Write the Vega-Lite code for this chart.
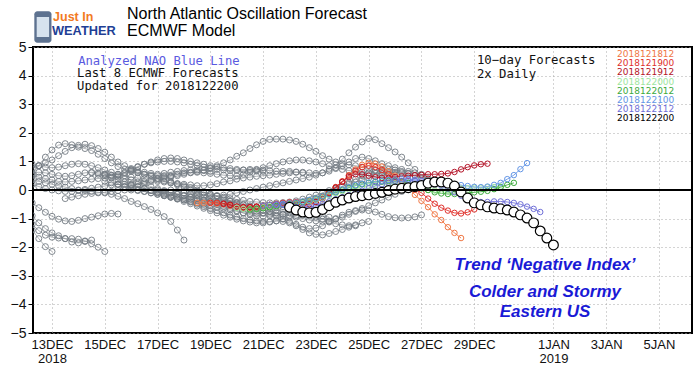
{
"$schema":"https://vega.github.io/schema/vega-lite/v6.json",
"width":659,"height":286,
"autosize":{"type":"none"},
"padding":{"left":33,"top":47,"right":8,"bottom":35},
"background":"white",
"config":{"view":{"stroke":"#000","strokeWidth":2},"font":"Liberation Sans","axis":{"labelOverlap":false},"axisX":{"labelOverlap":false},"axisY":{"labelOverlap":false}},
"data":{"values":[{"s":"annotation"}]},
"datasets":{
"gray":[
{"s":"g1","d":12.25,"v":0.55},{"s":"g1","d":12.5,"v":0.85},{"s":"g1","d":12.75,"v":1.15},{"s":"g1","d":13,"v":1.4},{"s":"g1","d":13.25,"v":1.57},{"s":"g1","d":13.5,"v":1.62},{"s":"g1","d":13.75,"v":1.58},{"s":"g1","d":14,"v":1.5},{"s":"g1","d":14.25,"v":1.45},{"s":"g1","d":14.5,"v":1.38},{"s":"g1","d":14.75,"v":1.25},{"s":"g1","d":15,"v":1.1},{"s":"g1","d":15.25,"v":0.95},{"s":"g1","d":15.5,"v":0.82},{"s":"g1","d":15.75,"v":0.72},{"s":"g1","d":16,"v":0.65},{"s":"g1","d":16.25,"v":0.6},{"s":"g1","d":16.5,"v":0.55},{"s":"g1","d":16.75,"v":0.52},{"s":"g1","d":17,"v":0.5},{"s":"g1","d":17.25,"v":0.5},{"s":"g1","d":17.5,"v":0.48},
{"s":"g2","d":12.25,"v":0.75},{"s":"g2","d":12.5,"v":0.85},{"s":"g2","d":12.75,"v":0.95},{"s":"g2","d":13,"v":1.05},{"s":"g2","d":13.25,"v":1.2},{"s":"g2","d":13.5,"v":1.35},{"s":"g2","d":13.75,"v":1.48},{"s":"g2","d":14,"v":1.56},{"s":"g2","d":14.25,"v":1.6},{"s":"g2","d":14.5,"v":1.55},{"s":"g2","d":14.75,"v":1.45},{"s":"g2","d":15,"v":1.32},{"s":"g2","d":15.25,"v":1.15},{"s":"g2","d":15.5,"v":0.98},{"s":"g2","d":15.75,"v":0.85},{"s":"g2","d":16,"v":0.75},{"s":"g2","d":16.25,"v":0.68},{"s":"g2","d":16.5,"v":0.62},{"s":"g2","d":16.75,"v":0.58},{"s":"g2","d":17,"v":0.55},{"s":"g2","d":17.25,"v":0.58},{"s":"g2","d":17.5,"v":0.62},{"s":"g2","d":17.75,"v":0.65},{"s":"g2","d":18,"v":0.68},{"s":"g2","d":18.25,"v":0.7},{"s":"g2","d":18.5,"v":0.7},{"s":"g2","d":18.75,"v":0.68},{"s":"g2","d":19,"v":0.65},
{"s":"g3","d":12.25,"v":0.9},{"s":"g3","d":12.5,"v":0.85},{"s":"g3","d":12.75,"v":0.8},{"s":"g3","d":13,"v":0.78},{"s":"g3","d":13.25,"v":0.8},{"s":"g3","d":13.5,"v":0.85},{"s":"g3","d":13.75,"v":0.9},{"s":"g3","d":14,"v":0.92},{"s":"g3","d":14.25,"v":0.9},{"s":"g3","d":14.5,"v":0.85},{"s":"g3","d":14.75,"v":0.78},{"s":"g3","d":15,"v":0.7},{"s":"g3","d":15.25,"v":0.62},{"s":"g3","d":15.5,"v":0.55},{"s":"g3","d":15.75,"v":0.5},{"s":"g3","d":16,"v":0.45},{"s":"g3","d":16.25,"v":0.42},{"s":"g3","d":16.5,"v":0.4},
{"s":"g4","d":12.25,"v":0.5},{"s":"g4","d":12.5,"v":0.45},{"s":"g4","d":12.75,"v":0.4},{"s":"g4","d":13,"v":0.35},{"s":"g4","d":13.25,"v":0.3},{"s":"g4","d":13.5,"v":0.28},{"s":"g4","d":13.75,"v":0.3},{"s":"g4","d":14,"v":0.32},{"s":"g4","d":14.25,"v":0.35},{"s":"g4","d":14.5,"v":0.38},{"s":"g4","d":14.75,"v":0.4},{"s":"g4","d":15,"v":0.42},{"s":"g4","d":15.25,"v":0.45},{"s":"g4","d":15.5,"v":0.5},{"s":"g4","d":15.75,"v":0.58},{"s":"g4","d":16,"v":0.68},{"s":"g4","d":16.25,"v":0.8},{"s":"g4","d":16.5,"v":0.9},{"s":"g4","d":16.75,"v":0.98},{"s":"g4","d":17,"v":1.05},{"s":"g4","d":17.25,"v":1.1},{"s":"g4","d":17.5,"v":1.12},{"s":"g4","d":17.75,"v":1.1},{"s":"g4","d":18,"v":1.05},{"s":"g4","d":18.25,"v":1.0},{"s":"g4","d":18.5,"v":0.95},{"s":"g4","d":18.75,"v":0.9},{"s":"g4","d":19,"v":0.85},{"s":"g4","d":19.25,"v":0.8},{"s":"g4","d":19.5,"v":0.77},{"s":"g4","d":19.75,"v":0.75},{"s":"g4","d":20,"v":0.72},{"s":"g4","d":20.25,"v":0.7},{"s":"g4","d":20.5,"v":0.68},{"s":"g4","d":20.75,"v":0.66},{"s":"g4","d":21,"v":0.65},
{"s":"g5","d":12.25,"v":0.2},{"s":"g5","d":12.5,"v":0.12},{"s":"g5","d":12.75,"v":0.05},{"s":"g5","d":13,"v":0.0},{"s":"g5","d":13.25,"v":-0.03},{"s":"g5","d":13.5,"v":-0.05},{"s":"g5","d":13.75,"v":-0.05},{"s":"g5","d":14,"v":-0.02},{"s":"g5","d":14.25,"v":0.02},{"s":"g5","d":14.5,"v":0.06},{"s":"g5","d":14.75,"v":0.1},{"s":"g5","d":15,"v":0.14},{"s":"g5","d":15.25,"v":0.18},{"s":"g5","d":15.5,"v":0.2},{"s":"g5","d":15.75,"v":0.2},{"s":"g5","d":16,"v":0.18},{"s":"g5","d":16.25,"v":0.12},{"s":"g5","d":16.5,"v":0.05},{"s":"g5","d":16.75,"v":-0.02},{"s":"g5","d":17,"v":-0.08},{"s":"g5","d":17.25,"v":-0.14},{"s":"g5","d":17.5,"v":-0.2},{"s":"g5","d":17.75,"v":-0.25},{"s":"g5","d":18,"v":-0.3},{"s":"g5","d":18.25,"v":-0.33},{"s":"g5","d":18.5,"v":-0.36},{"s":"g5","d":18.75,"v":-0.38},{"s":"g5","d":19,"v":-0.4},{"s":"g5","d":19.25,"v":-0.42},{"s":"g5","d":19.5,"v":-0.45},{"s":"g5","d":19.75,"v":-0.48},{"s":"g5","d":20,"v":-0.5},
{"s":"g7","d":12.25,"v":-0.45},{"s":"g7","d":12.5,"v":-0.62},{"s":"g7","d":12.75,"v":-0.78},{"s":"g7","d":13,"v":-0.92},{"s":"g7","d":13.25,"v":-1.02},{"s":"g7","d":13.5,"v":-1.08},{"s":"g7","d":13.75,"v":-1.1},{"s":"g7","d":14,"v":-1.06},{"s":"g7","d":14.25,"v":-1.0},{"s":"g7","d":14.5,"v":-0.95},{"s":"g7","d":14.75,"v":-0.9},{"s":"g7","d":15,"v":-0.84},{"s":"g7","d":15.25,"v":-0.82},{"s":"g7","d":15.5,"v":-0.84},
{"s":"g8","d":12.25,"v":-1.2},{"s":"g8","d":12.5,"v":-1.42},{"s":"g8","d":12.75,"v":-1.58},{"s":"g8","d":13,"v":-1.65},{"s":"g8","d":13.25,"v":-1.68},{"s":"g8","d":13.5,"v":-1.7},{"s":"g8","d":13.75,"v":-1.7},{"s":"g8","d":14,"v":-1.72},{"s":"g8","d":14.25,"v":-1.78},{"s":"g8","d":14.5,"v":-1.88},{"s":"g8","d":14.75,"v":-2.0},{"s":"g8","d":15,"v":-2.15},
{"s":"g9","d":12.25,"v":-1.4},{"s":"g9","d":12.5,"v":-1.7},{"s":"g9","d":12.75,"v":-1.98},{"s":"g9","d":13,"v":-2.15},
{"s":"g10","d":12.25,"v":-0.9},{"s":"g10","d":12.5,"v":-1.15},{"s":"g10","d":12.75,"v":-1.35},{"s":"g10","d":13,"v":-1.5},{"s":"g10","d":13.25,"v":-1.6},{"s":"g10","d":13.5,"v":-1.7},{"s":"g10","d":13.75,"v":-1.82},{"s":"g10","d":14,"v":-1.85},{"s":"g10","d":14.25,"v":-1.8},{"s":"g10","d":14.5,"v":-1.75},
{"s":"g12","d":12.25,"v":0.35},{"s":"g12","d":12.5,"v":0.3},{"s":"g12","d":12.75,"v":0.25},{"s":"g12","d":13,"v":0.2},{"s":"g12","d":13.25,"v":0.15},{"s":"g12","d":13.5,"v":0.1},{"s":"g12","d":13.75,"v":0.05},{"s":"g12","d":14,"v":0.0},{"s":"g12","d":14.25,"v":-0.02},{"s":"g12","d":14.5,"v":-0.05},{"s":"g12","d":14.75,"v":-0.08},{"s":"g12","d":15,"v":-0.1},{"s":"g12","d":15.25,"v":-0.15},{"s":"g12","d":15.5,"v":-0.22},{"s":"g12","d":15.75,"v":-0.3},{"s":"g12","d":16,"v":-0.4},{"s":"g12","d":16.25,"v":-0.48},{"s":"g12","d":16.5,"v":-0.58},{"s":"g12","d":16.75,"v":-0.68},{"s":"g12","d":17,"v":-0.8},{"s":"g12","d":17.25,"v":-0.93},{"s":"g12","d":17.5,"v":-1.1},{"s":"g12","d":17.75,"v":-1.4},{"s":"g12","d":18,"v":-1.75},
{"s":"g13","d":12.25,"v":0.6},{"s":"g13","d":12.5,"v":0.62},{"s":"g13","d":12.75,"v":0.6},{"s":"g13","d":13,"v":0.55},{"s":"g13","d":13.25,"v":0.5},{"s":"g13","d":13.5,"v":0.48},{"s":"g13","d":13.75,"v":0.5},{"s":"g13","d":14,"v":0.55},{"s":"g13","d":14.25,"v":0.6},{"s":"g13","d":14.5,"v":0.62},{"s":"g13","d":14.75,"v":0.6},{"s":"g13","d":15,"v":0.55},{"s":"g13","d":15.25,"v":0.52},{"s":"g13","d":15.5,"v":0.55},{"s":"g13","d":15.75,"v":0.62},{"s":"g13","d":16,"v":0.72},{"s":"g13","d":16.25,"v":0.82},{"s":"g13","d":16.5,"v":0.9},{"s":"g13","d":16.75,"v":0.95},{"s":"g13","d":17,"v":0.98},{"s":"g13","d":17.25,"v":1.0},{"s":"g13","d":17.5,"v":1.0},{"s":"g13","d":17.75,"v":0.98},{"s":"g13","d":18,"v":0.95},{"s":"g13","d":18.25,"v":0.9},{"s":"g13","d":18.5,"v":0.85},{"s":"g13","d":18.75,"v":0.8},{"s":"g13","d":19,"v":0.75},{"s":"g13","d":19.25,"v":0.72},{"s":"g13","d":19.5,"v":0.7},{"s":"g13","d":19.75,"v":0.68},{"s":"g13","d":20,"v":0.68},{"s":"g13","d":20.25,"v":0.7},{"s":"g13","d":20.5,"v":0.72},{"s":"g13","d":20.75,"v":0.72},{"s":"g13","d":21,"v":0.7},{"s":"g13","d":21.25,"v":0.68},{"s":"g13","d":21.5,"v":0.66},{"s":"g13","d":21.75,"v":0.65},{"s":"g13","d":22,"v":0.65},{"s":"g13","d":22.25,"v":0.63},{"s":"g13","d":22.5,"v":0.6},
{"s":"g14","d":15.5,"v":0.1},{"s":"g14","d":15.75,"v":0.12},{"s":"g14","d":16,"v":0.15},{"s":"g14","d":16.25,"v":0.2},{"s":"g14","d":16.5,"v":0.25},{"s":"g14","d":16.75,"v":0.3},{"s":"g14","d":17,"v":0.35},{"s":"g14","d":17.25,"v":0.4},{"s":"g14","d":17.5,"v":0.45},{"s":"g14","d":17.75,"v":0.5},{"s":"g14","d":18,"v":0.55},{"s":"g14","d":18.25,"v":0.6},{"s":"g14","d":18.5,"v":0.65},{"s":"g14","d":18.75,"v":0.7},{"s":"g14","d":19,"v":0.78},{"s":"g14","d":19.25,"v":0.85},{"s":"g14","d":19.5,"v":0.95},{"s":"g14","d":19.75,"v":1.05},{"s":"g14","d":20,"v":1.18},{"s":"g14","d":20.25,"v":1.3},{"s":"g14","d":20.5,"v":1.45},{"s":"g14","d":20.75,"v":1.58},{"s":"g14","d":21,"v":1.7},{"s":"g14","d":21.25,"v":1.77},{"s":"g14","d":21.5,"v":1.78},{"s":"g14","d":21.75,"v":1.78},{"s":"g14","d":22,"v":1.75},{"s":"g14","d":22.25,"v":1.7},{"s":"g14","d":22.5,"v":1.6},{"s":"g14","d":22.75,"v":1.48},{"s":"g14","d":23,"v":1.35},{"s":"g14","d":23.25,"v":1.2},{"s":"g14","d":23.5,"v":1.08},{"s":"g14","d":23.75,"v":0.98},{"s":"g14","d":24,"v":0.92},{"s":"g14","d":24.25,"v":0.88},{"s":"g14","d":24.5,"v":0.85},{"s":"g14","d":24.75,"v":0.8},{"s":"g14","d":25,"v":0.75},{"s":"g14","d":25.25,"v":0.7},{"s":"g14","d":25.5,"v":0.65},
{"s":"g15","d":17.5,"v":0.0},{"s":"g15","d":17.75,"v":-0.05},{"s":"g15","d":18,"v":-0.1},{"s":"g15","d":18.25,"v":-0.12},{"s":"g15","d":18.5,"v":-0.15},{"s":"g15","d":18.75,"v":-0.18},{"s":"g15","d":19,"v":-0.2},{"s":"g15","d":19.25,"v":-0.2},{"s":"g15","d":19.5,"v":-0.18},{"s":"g15","d":19.75,"v":-0.15},{"s":"g15","d":20,"v":-0.1},{"s":"g15","d":20.25,"v":-0.05},{"s":"g15","d":20.5,"v":0.0},{"s":"g15","d":20.75,"v":0.05},{"s":"g15","d":21,"v":0.1},{"s":"g15","d":21.25,"v":0.15},{"s":"g15","d":21.5,"v":0.2},{"s":"g15","d":21.75,"v":0.25},{"s":"g15","d":22,"v":0.3},{"s":"g15","d":22.25,"v":0.35},{"s":"g15","d":22.5,"v":0.4},{"s":"g15","d":22.75,"v":0.45},{"s":"g15","d":23,"v":0.52},{"s":"g15","d":23.25,"v":0.6},{"s":"g15","d":23.5,"v":0.72},{"s":"g15","d":23.75,"v":0.88},{"s":"g15","d":24,"v":1.08},{"s":"g15","d":24.25,"v":1.3},{"s":"g15","d":24.5,"v":1.5},{"s":"g15","d":24.75,"v":1.68},{"s":"g15","d":25,"v":1.8},{"s":"g15","d":25.25,"v":1.76},{"s":"g15","d":25.5,"v":1.62},{"s":"g15","d":25.75,"v":1.48},{"s":"g15","d":26,"v":1.33},{"s":"g15","d":26.25,"v":1.15},{"s":"g15","d":26.5,"v":0.95},{"s":"g15","d":26.75,"v":0.72},{"s":"g15","d":27,"v":0.52},{"s":"g15","d":27.25,"v":0.4},{"s":"g15","d":27.5,"v":0.3},
{"s":"g16","d":17,"v":0.3},{"s":"g16","d":17.25,"v":0.28},{"s":"g16","d":17.5,"v":0.25},{"s":"g16","d":17.75,"v":0.22},{"s":"g16","d":18,"v":0.2},{"s":"g16","d":18.25,"v":0.18},{"s":"g16","d":18.5,"v":0.15},{"s":"g16","d":18.75,"v":0.15},{"s":"g16","d":19,"v":0.18},{"s":"g16","d":19.25,"v":0.22},{"s":"g16","d":19.5,"v":0.28},{"s":"g16","d":19.75,"v":0.32},{"s":"g16","d":20,"v":0.38},{"s":"g16","d":20.25,"v":0.42},{"s":"g16","d":20.5,"v":0.45},{"s":"g16","d":20.75,"v":0.48},{"s":"g16","d":21,"v":0.5},{"s":"g16","d":21.25,"v":0.52},{"s":"g16","d":21.5,"v":0.55},{"s":"g16","d":21.75,"v":0.58},{"s":"g16","d":22,"v":0.6},{"s":"g16","d":22.25,"v":0.62},{"s":"g16","d":22.5,"v":0.62},{"s":"g16","d":22.75,"v":0.6},{"s":"g16","d":23,"v":0.58},{"s":"g16","d":23.25,"v":0.6},{"s":"g16","d":23.5,"v":0.66},{"s":"g16","d":23.75,"v":0.75},{"s":"g16","d":24,"v":0.85},{"s":"g16","d":24.25,"v":0.98},{"s":"g16","d":24.5,"v":1.1},{"s":"g16","d":24.75,"v":1.15},{"s":"g16","d":25,"v":1.1},{"s":"g16","d":25.25,"v":1.02},{"s":"g16","d":25.5,"v":0.92},{"s":"g16","d":25.75,"v":0.85},{"s":"g16","d":26,"v":0.78},{"s":"g16","d":26.25,"v":0.72},{"s":"g16","d":26.5,"v":0.65},{"s":"g16","d":26.75,"v":0.6},{"s":"g16","d":27,"v":0.55},
{"s":"g17","d":17,"v":0.0},{"s":"g17","d":17.25,"v":-0.05},{"s":"g17","d":17.5,"v":-0.1},{"s":"g17","d":17.75,"v":-0.15},{"s":"g17","d":18,"v":-0.2},{"s":"g17","d":18.25,"v":-0.25},{"s":"g17","d":18.5,"v":-0.3},{"s":"g17","d":18.75,"v":-0.35},{"s":"g17","d":19,"v":-0.4},{"s":"g17","d":19.25,"v":-0.45},{"s":"g17","d":19.5,"v":-0.5},{"s":"g17","d":19.75,"v":-0.55},{"s":"g17","d":20,"v":-0.6},{"s":"g17","d":20.25,"v":-0.65},{"s":"g17","d":20.5,"v":-0.7},{"s":"g17","d":20.75,"v":-0.75},{"s":"g17","d":21,"v":-0.8},{"s":"g17","d":21.25,"v":-0.85},{"s":"g17","d":21.5,"v":-0.92},{"s":"g17","d":21.75,"v":-1.0},{"s":"g17","d":22,"v":-1.1},{"s":"g17","d":22.25,"v":-1.2},{"s":"g17","d":22.5,"v":-1.3},{"s":"g17","d":22.75,"v":-1.35},{"s":"g17","d":23,"v":-1.33},{"s":"g17","d":23.25,"v":-1.25},{"s":"g17","d":23.5,"v":-1.12},{"s":"g17","d":23.75,"v":-1.0},{"s":"g17","d":24,"v":-0.88},{"s":"g17","d":24.25,"v":-0.78},{"s":"g17","d":24.5,"v":-0.72},{"s":"g17","d":24.75,"v":-0.7},{"s":"g17","d":25,"v":-0.72},{"s":"g17","d":25.25,"v":-0.77},{"s":"g17","d":25.5,"v":-0.85},{"s":"g17","d":25.75,"v":-0.93},{"s":"g17","d":26,"v":-0.97},{"s":"g17","d":26.25,"v":-0.98},{"s":"g17","d":26.5,"v":-0.97},{"s":"g17","d":26.75,"v":-0.94},{"s":"g17","d":27,"v":-0.87},
{"s":"g18","d":15,"v":0.3},{"s":"g18","d":15.25,"v":0.25},{"s":"g18","d":15.5,"v":0.2},{"s":"g18","d":15.75,"v":0.12},{"s":"g18","d":16,"v":0.05},{"s":"g18","d":16.25,"v":0.0},{"s":"g18","d":16.5,"v":-0.05},{"s":"g18","d":16.75,"v":-0.1},{"s":"g18","d":17,"v":-0.15},{"s":"g18","d":17.25,"v":-0.2},{"s":"g18","d":17.5,"v":-0.25},{"s":"g18","d":17.75,"v":-0.3},{"s":"g18","d":18,"v":-0.35},{"s":"g18","d":18.25,"v":-0.42},{"s":"g18","d":18.5,"v":-0.5},{"s":"g18","d":18.75,"v":-0.58},{"s":"g18","d":19,"v":-0.65},{"s":"g18","d":19.25,"v":-0.72},{"s":"g18","d":19.5,"v":-0.8},{"s":"g18","d":19.75,"v":-0.88},{"s":"g18","d":20,"v":-0.95},{"s":"g18","d":20.25,"v":-1.0},{"s":"g18","d":20.5,"v":-1.05},{"s":"g18","d":20.75,"v":-1.08},{"s":"g18","d":21,"v":-1.1},{"s":"g18","d":21.25,"v":-1.1},{"s":"g18","d":21.5,"v":-1.08},{"s":"g18","d":21.75,"v":-1.1},{"s":"g18","d":22,"v":-1.15},{"s":"g18","d":22.25,"v":-1.25},{"s":"g18","d":22.5,"v":-1.38},{"s":"g18","d":22.75,"v":-1.5},{"s":"g18","d":23,"v":-1.55},{"s":"g18","d":23.25,"v":-1.57},{"s":"g18","d":23.5,"v":-1.52},{"s":"g18","d":23.75,"v":-1.45},{"s":"g18","d":24,"v":-1.38},{"s":"g18","d":24.25,"v":-1.3},{"s":"g18","d":24.5,"v":-1.22},{"s":"g18","d":24.75,"v":-1.15},{"s":"g18","d":25,"v":-1.1},
{"s":"g19","d":15,"v":0.55},{"s":"g19","d":15.25,"v":0.5},{"s":"g19","d":15.5,"v":0.45},{"s":"g19","d":15.75,"v":0.4},{"s":"g19","d":16,"v":0.35},{"s":"g19","d":16.25,"v":0.28},{"s":"g19","d":16.5,"v":0.2},{"s":"g19","d":16.75,"v":0.12},{"s":"g19","d":17,"v":0.05},{"s":"g19","d":17.25,"v":-0.02},{"s":"g19","d":17.5,"v":-0.1},{"s":"g19","d":17.75,"v":-0.15},{"s":"g19","d":18,"v":-0.2},{"s":"g19","d":18.25,"v":-0.25},{"s":"g19","d":18.5,"v":-0.3},{"s":"g19","d":18.75,"v":-0.35},{"s":"g19","d":19,"v":-0.42},{"s":"g19","d":19.25,"v":-0.5},{"s":"g19","d":19.5,"v":-0.58},{"s":"g19","d":19.75,"v":-0.65},{"s":"g19","d":20,"v":-0.72},{"s":"g19","d":20.25,"v":-0.8},{"s":"g19","d":20.5,"v":-0.86},{"s":"g19","d":20.75,"v":-0.9},{"s":"g19","d":21,"v":-0.92},{"s":"g19","d":21.25,"v":-0.9},{"s":"g19","d":21.5,"v":-0.88},{"s":"g19","d":21.75,"v":-0.85},{"s":"g19","d":22,"v":-0.8},{"s":"g19","d":22.25,"v":-0.75},{"s":"g19","d":22.5,"v":-0.7},{"s":"g19","d":22.75,"v":-0.65},{"s":"g19","d":23,"v":-0.6},{"s":"g19","d":23.25,"v":-0.55},{"s":"g19","d":23.5,"v":-0.48},{"s":"g19","d":23.75,"v":-0.4},{"s":"g19","d":24,"v":-0.32},{"s":"g19","d":24.25,"v":-0.25},{"s":"g19","d":24.5,"v":-0.18},{"s":"g19","d":24.75,"v":-0.1},{"s":"g19","d":25,"v":-0.05},
{"s":"g20","d":17.5,"v":0.3},{"s":"g20","d":17.75,"v":0.22},{"s":"g20","d":18,"v":0.15},{"s":"g20","d":18.25,"v":0.08},{"s":"g20","d":18.5,"v":0.0},{"s":"g20","d":18.75,"v":-0.08},{"s":"g20","d":19,"v":-0.15},{"s":"g20","d":19.25,"v":-0.22},{"s":"g20","d":19.5,"v":-0.3},{"s":"g20","d":19.75,"v":-0.38},{"s":"g20","d":20,"v":-0.45},{"s":"g20","d":20.25,"v":-0.52},{"s":"g20","d":20.5,"v":-0.58},{"s":"g20","d":20.75,"v":-0.65},{"s":"g20","d":21,"v":-0.7},{"s":"g20","d":21.25,"v":-0.75},{"s":"g20","d":21.5,"v":-0.8},{"s":"g20","d":21.75,"v":-0.85},{"s":"g20","d":22,"v":-0.9},{"s":"g20","d":22.25,"v":-0.95},{"s":"g20","d":22.5,"v":-1.0},{"s":"g20","d":22.75,"v":-1.05},{"s":"g20","d":23,"v":-1.08},{"s":"g20","d":23.25,"v":-1.1},{"s":"g20","d":23.5,"v":-1.08},{"s":"g20","d":23.75,"v":-1.02},{"s":"g20","d":24,"v":-0.95},{"s":"g20","d":24.25,"v":-0.85},{"s":"g20","d":24.5,"v":-0.75},{"s":"g20","d":24.75,"v":-0.65},{"s":"g20","d":25,"v":-0.55},{"s":"g20","d":25.25,"v":-0.45},{"s":"g20","d":25.5,"v":-0.35},{"s":"g20","d":25.75,"v":-0.25},{"s":"g20","d":26,"v":-0.15},{"s":"g20","d":26.25,"v":-0.05},{"s":"g20","d":26.5,"v":0.02},{"s":"g20","d":26.75,"v":0.08},{"s":"g20","d":27,"v":0.12},{"s":"g20","d":27.25,"v":0.15},{"s":"g20","d":27.5,"v":0.18},
{"s":"g21","d":16,"v":0.7},{"s":"g21","d":16.25,"v":0.62},{"s":"g21","d":16.5,"v":0.55},{"s":"g21","d":16.75,"v":0.48},{"s":"g21","d":17,"v":0.4},{"s":"g21","d":17.25,"v":0.32},{"s":"g21","d":17.5,"v":0.25},{"s":"g21","d":17.75,"v":0.18},{"s":"g21","d":18,"v":0.1},{"s":"g21","d":18.25,"v":0.02},{"s":"g21","d":18.5,"v":-0.05},{"s":"g21","d":18.75,"v":-0.1},{"s":"g21","d":19,"v":-0.15},{"s":"g21","d":19.25,"v":-0.2},{"s":"g21","d":19.5,"v":-0.25},{"s":"g21","d":19.75,"v":-0.3},{"s":"g21","d":20,"v":-0.33},{"s":"g21","d":20.25,"v":-0.36},{"s":"g21","d":20.5,"v":-0.4},{"s":"g21","d":20.75,"v":-0.42},{"s":"g21","d":21,"v":-0.44},{"s":"g21","d":21.25,"v":-0.45},{"s":"g21","d":21.5,"v":-0.45},{"s":"g21","d":21.75,"v":-0.44},{"s":"g21","d":22,"v":-0.42},{"s":"g21","d":22.25,"v":-0.38},{"s":"g21","d":22.5,"v":-0.32},{"s":"g21","d":22.75,"v":-0.25},{"s":"g21","d":23,"v":-0.18},{"s":"g21","d":23.25,"v":-0.1},{"s":"g21","d":23.5,"v":-0.02},{"s":"g21","d":23.75,"v":0.05},{"s":"g21","d":24,"v":0.12},{"s":"g21","d":24.25,"v":0.2},{"s":"g21","d":24.5,"v":0.28},{"s":"g21","d":24.75,"v":0.35},{"s":"g21","d":25,"v":0.42},{"s":"g21","d":25.25,"v":0.48},{"s":"g21","d":25.5,"v":0.52},{"s":"g21","d":25.75,"v":0.55},{"s":"g21","d":26,"v":0.55},
{"s":"g22","d":16.5,"v":0.3},{"s":"g22","d":16.75,"v":0.35},{"s":"g22","d":17,"v":0.4},{"s":"g22","d":17.25,"v":0.45},{"s":"g22","d":17.5,"v":0.5},{"s":"g22","d":17.75,"v":0.55},{"s":"g22","d":18,"v":0.6},{"s":"g22","d":18.25,"v":0.62},{"s":"g22","d":18.5,"v":0.62},{"s":"g22","d":18.75,"v":0.6},{"s":"g22","d":19,"v":0.58},{"s":"g22","d":19.25,"v":0.55},{"s":"g22","d":19.5,"v":0.52},{"s":"g22","d":19.75,"v":0.5},{"s":"g22","d":20,"v":0.5},{"s":"g22","d":20.25,"v":0.55},{"s":"g22","d":20.5,"v":0.62},{"s":"g22","d":20.75,"v":0.7},{"s":"g22","d":21,"v":0.78},{"s":"g22","d":21.25,"v":0.85},{"s":"g22","d":21.5,"v":0.92},{"s":"g22","d":21.75,"v":0.98},{"s":"g22","d":22,"v":1.02},{"s":"g22","d":22.25,"v":1.05},{"s":"g22","d":22.5,"v":1.05},{"s":"g22","d":22.75,"v":1.02},{"s":"g22","d":23,"v":0.98},{"s":"g22","d":23.25,"v":0.92},{"s":"g22","d":23.5,"v":0.85},{"s":"g22","d":23.75,"v":0.78},{"s":"g22","d":24,"v":0.72},{"s":"g22","d":24.25,"v":0.68},{"s":"g22","d":24.5,"v":0.65},{"s":"g22","d":24.75,"v":0.62},{"s":"g22","d":25,"v":0.6},{"s":"g22","d":25.25,"v":0.58},{"s":"g22","d":25.5,"v":0.58},{"s":"g22","d":25.75,"v":0.6},{"s":"g22","d":26,"v":0.62},{"s":"g22","d":26.25,"v":0.6},{"s":"g22","d":26.5,"v":0.58},
{"s":"g23","d":18,"v":-0.1},{"s":"g23","d":18.25,"v":-0.15},{"s":"g23","d":18.5,"v":-0.2},{"s":"g23","d":18.75,"v":-0.25},{"s":"g23","d":19,"v":-0.3},{"s":"g23","d":19.25,"v":-0.33},{"s":"g23","d":19.5,"v":-0.36},{"s":"g23","d":19.75,"v":-0.4},{"s":"g23","d":20,"v":-0.45},{"s":"g23","d":20.25,"v":-0.5},{"s":"g23","d":20.5,"v":-0.55},{"s":"g23","d":20.75,"v":-0.6},{"s":"g23","d":21,"v":-0.62},{"s":"g23","d":21.25,"v":-0.62},{"s":"g23","d":21.5,"v":-0.6},{"s":"g23","d":21.75,"v":-0.58},{"s":"g23","d":22,"v":-0.55},{"s":"g23","d":22.25,"v":-0.5},{"s":"g23","d":22.5,"v":-0.45},{"s":"g23","d":22.75,"v":-0.38},{"s":"g23","d":23,"v":-0.3},{"s":"g23","d":23.25,"v":-0.22},{"s":"g23","d":23.5,"v":-0.12},{"s":"g23","d":23.75,"v":0.0},{"s":"g23","d":24,"v":0.12},{"s":"g23","d":24.25,"v":0.25},{"s":"g23","d":24.5,"v":0.38},{"s":"g23","d":24.75,"v":0.5},{"s":"g23","d":25,"v":0.6},{"s":"g23","d":25.25,"v":0.68},{"s":"g23","d":25.5,"v":0.72},{"s":"g23","d":25.75,"v":0.72},{"s":"g23","d":26,"v":0.7},{"s":"g23","d":26.25,"v":0.65},{"s":"g23","d":26.5,"v":0.58},{"s":"g23","d":26.75,"v":0.5},{"s":"g23","d":27,"v":0.42},{"s":"g23","d":27.25,"v":0.35},{"s":"g23","d":27.5,"v":0.3},{"s":"g23","d":27.75,"v":0.28},{"s":"g23","d":28,"v":0.25},
{"s":"g26","d":13.5,"v":-0.3},{"s":"g26","d":13.75,"v":-0.25},{"s":"g26","d":14,"v":-0.2},{"s":"g26","d":14.25,"v":-0.15},{"s":"g26","d":14.5,"v":-0.12},{"s":"g26","d":14.75,"v":-0.1},{"s":"g26","d":15,"v":-0.08},{"s":"g26","d":15.25,"v":-0.05},{"s":"g26","d":15.5,"v":-0.02},{"s":"g26","d":15.75,"v":0.0},{"s":"g26","d":16,"v":0.0},{"s":"g26","d":16.25,"v":-0.02},{"s":"g26","d":16.5,"v":-0.05},{"s":"g26","d":16.75,"v":-0.1},{"s":"g26","d":17,"v":-0.15},{"s":"g26","d":17.25,"v":-0.2},{"s":"g26","d":17.5,"v":-0.25},{"s":"g26","d":17.75,"v":-0.3},{"s":"g26","d":18,"v":-0.35},{"s":"g26","d":18.25,"v":-0.4},{"s":"g26","d":18.5,"v":-0.45},{"s":"g26","d":18.75,"v":-0.5},{"s":"g26","d":19,"v":-0.55},{"s":"g26","d":19.25,"v":-0.6},{"s":"g26","d":19.5,"v":-0.65},{"s":"g26","d":19.75,"v":-0.7},{"s":"g26","d":20,"v":-0.75},{"s":"g26","d":20.25,"v":-0.8},{"s":"g26","d":20.5,"v":-0.82},{"s":"g26","d":20.75,"v":-0.82},{"s":"g26","d":21,"v":-0.8},{"s":"g26","d":21.25,"v":-0.76},{"s":"g26","d":21.5,"v":-0.72},{"s":"g26","d":21.75,"v":-0.7},{"s":"g26","d":22,"v":-0.7},{"s":"g26","d":22.25,"v":-0.72},{"s":"g26","d":22.5,"v":-0.75},{"s":"g26","d":22.75,"v":-0.8},{"s":"g26","d":23,"v":-0.85},{"s":"g26","d":23.25,"v":-0.9},{"s":"g26","d":23.5,"v":-0.95},
{"s":"g27","d":14.5,"v":0.6},{"s":"g27","d":14.75,"v":0.55},{"s":"g27","d":15,"v":0.5},{"s":"g27","d":15.25,"v":0.42},{"s":"g27","d":15.5,"v":0.35},{"s":"g27","d":15.75,"v":0.28},{"s":"g27","d":16,"v":0.2},{"s":"g27","d":16.25,"v":0.12},{"s":"g27","d":16.5,"v":0.05},{"s":"g27","d":16.75,"v":-0.02},{"s":"g27","d":17,"v":-0.1},{"s":"g27","d":17.25,"v":-0.18},{"s":"g27","d":17.5,"v":-0.25},{"s":"g27","d":17.75,"v":-0.32},{"s":"g27","d":18,"v":-0.4},{"s":"g27","d":18.25,"v":-0.48},{"s":"g27","d":18.5,"v":-0.56},{"s":"g27","d":18.75,"v":-0.64},{"s":"g27","d":19,"v":-0.72},{"s":"g27","d":19.25,"v":-0.8},{"s":"g27","d":19.5,"v":-0.88},{"s":"g27","d":19.75,"v":-0.95},{"s":"g27","d":20,"v":-1.02},{"s":"g27","d":20.25,"v":-1.08},{"s":"g27","d":20.5,"v":-1.12},{"s":"g27","d":20.75,"v":-1.15},{"s":"g27","d":21,"v":-1.15},{"s":"g27","d":21.25,"v":-1.12},{"s":"g27","d":21.5,"v":-1.08},{"s":"g27","d":21.75,"v":-1.02},{"s":"g27","d":22,"v":-0.95},{"s":"g27","d":22.25,"v":-0.9},{"s":"g27","d":22.5,"v":-0.88},{"s":"g27","d":22.75,"v":-0.9},{"s":"g27","d":23,"v":-0.95},{"s":"g27","d":23.25,"v":-1.02},{"s":"g27","d":23.5,"v":-1.1},{"s":"g27","d":23.75,"v":-1.18},{"s":"g27","d":24,"v":-1.22},{"s":"g27","d":24.25,"v":-1.25},{"s":"g27","d":24.5,"v":-1.25}
],
"fc":[
{"s":"2018121812","d":18.5,"v":-0.45},{"s":"2018121812","d":18.75,"v":-0.45},{"s":"2018121812","d":19,"v":-0.45},{"s":"2018121812","d":19.25,"v":-0.47},{"s":"2018121812","d":19.5,"v":-0.5},{"s":"2018121812","d":19.75,"v":-0.55},{"s":"2018121812","d":20,"v":-0.6},{"s":"2018121812","d":20.25,"v":-0.62},{"s":"2018121812","d":20.5,"v":-0.62},{"s":"2018121812","d":20.75,"v":-0.6},{"s":"2018121812","d":21,"v":-0.57},{"s":"2018121812","d":21.25,"v":-0.53},{"s":"2018121812","d":21.5,"v":-0.5},{"s":"2018121812","d":21.75,"v":-0.48},{"s":"2018121812","d":22,"v":-0.46},{"s":"2018121812","d":22.25,"v":-0.44},{"s":"2018121812","d":22.5,"v":-0.42},{"s":"2018121812","d":22.75,"v":-0.38},{"s":"2018121812","d":23,"v":-0.32},{"s":"2018121812","d":23.25,"v":-0.22},{"s":"2018121812","d":23.5,"v":-0.08},{"s":"2018121812","d":23.75,"v":0.1},{"s":"2018121812","d":24,"v":0.3},{"s":"2018121812","d":24.25,"v":0.52},{"s":"2018121812","d":24.5,"v":0.72},{"s":"2018121812","d":24.75,"v":0.88},{"s":"2018121812","d":25,"v":0.95},{"s":"2018121812","d":25.25,"v":0.92},{"s":"2018121812","d":25.5,"v":0.82},{"s":"2018121812","d":25.75,"v":0.66},{"s":"2018121812","d":26,"v":0.5},{"s":"2018121812","d":26.25,"v":0.3},{"s":"2018121812","d":26.5,"v":0.08},{"s":"2018121812","d":26.75,"v":-0.17},{"s":"2018121812","d":27,"v":-0.38},{"s":"2018121812","d":27.25,"v":-0.6},{"s":"2018121812","d":27.5,"v":-0.85},{"s":"2018121812","d":27.75,"v":-1.05},{"s":"2018121812","d":28,"v":-1.3},{"s":"2018121812","d":28.25,"v":-1.5},{"s":"2018121812","d":28.5,"v":-1.68},
{"s":"2018121900","d":19,"v":-0.45},{"s":"2018121900","d":19.25,"v":-0.45},{"s":"2018121900","d":19.5,"v":-0.48},{"s":"2018121900","d":19.75,"v":-0.52},{"s":"2018121900","d":20,"v":-0.58},{"s":"2018121900","d":20.25,"v":-0.6},{"s":"2018121900","d":20.5,"v":-0.6},{"s":"2018121900","d":20.75,"v":-0.58},{"s":"2018121900","d":21,"v":-0.55},{"s":"2018121900","d":21.25,"v":-0.52},{"s":"2018121900","d":21.5,"v":-0.48},{"s":"2018121900","d":21.75,"v":-0.45},{"s":"2018121900","d":22,"v":-0.43},{"s":"2018121900","d":22.25,"v":-0.42},{"s":"2018121900","d":22.5,"v":-0.42},{"s":"2018121900","d":22.75,"v":-0.4},{"s":"2018121900","d":23,"v":-0.35},{"s":"2018121900","d":23.25,"v":-0.25},{"s":"2018121900","d":23.5,"v":-0.1},{"s":"2018121900","d":23.75,"v":0.1},{"s":"2018121900","d":24,"v":0.3},{"s":"2018121900","d":24.25,"v":0.5},{"s":"2018121900","d":24.5,"v":0.68},{"s":"2018121900","d":24.75,"v":0.8},{"s":"2018121900","d":25,"v":0.85},{"s":"2018121900","d":25.25,"v":0.8},{"s":"2018121900","d":25.5,"v":0.7},{"s":"2018121900","d":25.75,"v":0.55},{"s":"2018121900","d":26,"v":0.38},{"s":"2018121900","d":26.25,"v":0.22},{"s":"2018121900","d":26.5,"v":0.1},{"s":"2018121900","d":26.75,"v":0.02},{"s":"2018121900","d":27,"v":-0.1},{"s":"2018121900","d":27.25,"v":-0.3},{"s":"2018121900","d":27.5,"v":-0.48},{"s":"2018121900","d":27.75,"v":-0.62},{"s":"2018121900","d":28,"v":-0.72},{"s":"2018121900","d":28.25,"v":-0.8},{"s":"2018121900","d":28.5,"v":-0.82},{"s":"2018121900","d":28.75,"v":-0.78},{"s":"2018121900","d":29,"v":-0.68},
{"s":"2018121912","d":19.5,"v":-0.48},{"s":"2018121912","d":19.75,"v":-0.52},{"s":"2018121912","d":20,"v":-0.58},{"s":"2018121912","d":20.25,"v":-0.6},{"s":"2018121912","d":20.5,"v":-0.6},{"s":"2018121912","d":20.75,"v":-0.58},{"s":"2018121912","d":21,"v":-0.55},{"s":"2018121912","d":21.25,"v":-0.52},{"s":"2018121912","d":21.5,"v":-0.5},{"s":"2018121912","d":21.75,"v":-0.48},{"s":"2018121912","d":22,"v":-0.48},{"s":"2018121912","d":22.25,"v":-0.5},{"s":"2018121912","d":22.5,"v":-0.52},{"s":"2018121912","d":22.75,"v":-0.5},{"s":"2018121912","d":23,"v":-0.42},{"s":"2018121912","d":23.25,"v":-0.3},{"s":"2018121912","d":23.5,"v":-0.12},{"s":"2018121912","d":23.75,"v":0.08},{"s":"2018121912","d":24,"v":0.28},{"s":"2018121912","d":24.25,"v":0.45},{"s":"2018121912","d":24.5,"v":0.55},{"s":"2018121912","d":24.75,"v":0.55},{"s":"2018121912","d":25,"v":0.5},{"s":"2018121912","d":25.25,"v":0.45},{"s":"2018121912","d":25.5,"v":0.42},{"s":"2018121912","d":25.75,"v":0.42},{"s":"2018121912","d":26,"v":0.45},{"s":"2018121912","d":26.25,"v":0.48},{"s":"2018121912","d":26.5,"v":0.5},{"s":"2018121912","d":26.75,"v":0.52},{"s":"2018121912","d":27,"v":0.53},{"s":"2018121912","d":27.25,"v":0.55},{"s":"2018121912","d":27.5,"v":0.55},{"s":"2018121912","d":27.75,"v":0.56},{"s":"2018121912","d":28,"v":0.58},{"s":"2018121912","d":28.25,"v":0.63},{"s":"2018121912","d":28.5,"v":0.72},{"s":"2018121912","d":28.75,"v":0.8},{"s":"2018121912","d":29,"v":0.86},{"s":"2018121912","d":29.25,"v":0.9},{"s":"2018121912","d":29.5,"v":0.92},
{"s":"2018122000","d":20,"v":-0.62},{"s":"2018122000","d":20.25,"v":-0.66},{"s":"2018122000","d":20.5,"v":-0.68},{"s":"2018122000","d":20.75,"v":-0.66},{"s":"2018122000","d":21,"v":-0.62},{"s":"2018122000","d":21.25,"v":-0.58},{"s":"2018122000","d":21.5,"v":-0.55},{"s":"2018122000","d":21.75,"v":-0.52},{"s":"2018122000","d":22,"v":-0.5},{"s":"2018122000","d":22.25,"v":-0.48},{"s":"2018122000","d":22.5,"v":-0.45},{"s":"2018122000","d":22.75,"v":-0.4},{"s":"2018122000","d":23,"v":-0.35},{"s":"2018122000","d":23.25,"v":-0.28},{"s":"2018122000","d":23.5,"v":-0.2},{"s":"2018122000","d":23.75,"v":-0.12},{"s":"2018122000","d":24,"v":-0.05},{"s":"2018122000","d":24.25,"v":0.02},{"s":"2018122000","d":24.5,"v":0.08},{"s":"2018122000","d":24.75,"v":0.12},{"s":"2018122000","d":25,"v":0.15},{"s":"2018122000","d":25.25,"v":0.18},{"s":"2018122000","d":25.5,"v":0.2},{"s":"2018122000","d":25.75,"v":0.22},{"s":"2018122000","d":26,"v":0.22},{"s":"2018122000","d":26.25,"v":0.2},{"s":"2018122000","d":26.5,"v":0.15},{"s":"2018122000","d":26.75,"v":0.1},{"s":"2018122000","d":27,"v":0.05},{"s":"2018122000","d":27.25,"v":0.0},{"s":"2018122000","d":27.5,"v":-0.02},{"s":"2018122000","d":27.75,"v":-0.02},{"s":"2018122000","d":28,"v":0.0},{"s":"2018122000","d":28.25,"v":0.02},{"s":"2018122000","d":28.5,"v":0.05},{"s":"2018122000","d":28.75,"v":0.06},{"s":"2018122000","d":29,"v":0.08},{"s":"2018122000","d":29.25,"v":0.08},{"s":"2018122000","d":29.5,"v":0.1},{"s":"2018122000","d":29.75,"v":0.1},{"s":"2018122000","d":30,"v":0.12},
{"s":"2018122012","d":20.5,"v":-0.68},{"s":"2018122012","d":20.75,"v":-0.66},{"s":"2018122012","d":21,"v":-0.64},{"s":"2018122012","d":21.25,"v":-0.6},{"s":"2018122012","d":21.5,"v":-0.56},{"s":"2018122012","d":21.75,"v":-0.52},{"s":"2018122012","d":22,"v":-0.5},{"s":"2018122012","d":22.25,"v":-0.46},{"s":"2018122012","d":22.5,"v":-0.42},{"s":"2018122012","d":22.75,"v":-0.36},{"s":"2018122012","d":23,"v":-0.3},{"s":"2018122012","d":23.25,"v":-0.22},{"s":"2018122012","d":23.5,"v":-0.15},{"s":"2018122012","d":23.75,"v":-0.08},{"s":"2018122012","d":24,"v":0.0},{"s":"2018122012","d":24.25,"v":0.08},{"s":"2018122012","d":24.5,"v":0.15},{"s":"2018122012","d":24.75,"v":0.2},{"s":"2018122012","d":25,"v":0.25},{"s":"2018122012","d":25.25,"v":0.28},{"s":"2018122012","d":25.5,"v":0.3},{"s":"2018122012","d":25.75,"v":0.32},{"s":"2018122012","d":26,"v":0.32},{"s":"2018122012","d":26.25,"v":0.3},{"s":"2018122012","d":26.5,"v":0.25},{"s":"2018122012","d":26.75,"v":0.18},{"s":"2018122012","d":27,"v":0.1},{"s":"2018122012","d":27.25,"v":0.0},{"s":"2018122012","d":27.5,"v":-0.08},{"s":"2018122012","d":27.75,"v":-0.12},{"s":"2018122012","d":28,"v":-0.14},{"s":"2018122012","d":28.25,"v":-0.14},{"s":"2018122012","d":28.5,"v":-0.12},{"s":"2018122012","d":28.75,"v":-0.1},{"s":"2018122012","d":29,"v":-0.08},{"s":"2018122012","d":29.25,"v":-0.06},{"s":"2018122012","d":29.5,"v":-0.03},{"s":"2018122012","d":29.75,"v":0.03},{"s":"2018122012","d":30,"v":0.1},{"s":"2018122012","d":30.25,"v":0.18},{"s":"2018122012","d":30.5,"v":0.25},
{"s":"2018122100","d":21,"v":-0.55},{"s":"2018122100","d":21.25,"v":-0.52},{"s":"2018122100","d":21.5,"v":-0.5},{"s":"2018122100","d":21.75,"v":-0.48},{"s":"2018122100","d":22,"v":-0.46},{"s":"2018122100","d":22.25,"v":-0.44},{"s":"2018122100","d":22.5,"v":-0.4},{"s":"2018122100","d":22.75,"v":-0.35},{"s":"2018122100","d":23,"v":-0.3},{"s":"2018122100","d":23.25,"v":-0.22},{"s":"2018122100","d":23.5,"v":-0.15},{"s":"2018122100","d":23.75,"v":-0.06},{"s":"2018122100","d":24,"v":0.02},{"s":"2018122100","d":24.25,"v":0.1},{"s":"2018122100","d":24.5,"v":0.17},{"s":"2018122100","d":24.75,"v":0.22},{"s":"2018122100","d":25,"v":0.26},{"s":"2018122100","d":25.25,"v":0.3},{"s":"2018122100","d":25.5,"v":0.32},{"s":"2018122100","d":25.75,"v":0.35},{"s":"2018122100","d":26,"v":0.37},{"s":"2018122100","d":26.25,"v":0.38},{"s":"2018122100","d":26.5,"v":0.38},{"s":"2018122100","d":26.75,"v":0.36},{"s":"2018122100","d":27,"v":0.33},{"s":"2018122100","d":27.25,"v":0.3},{"s":"2018122100","d":27.5,"v":0.27},{"s":"2018122100","d":27.75,"v":0.25},{"s":"2018122100","d":28,"v":0.23},{"s":"2018122100","d":28.25,"v":0.2},{"s":"2018122100","d":28.5,"v":0.17},{"s":"2018122100","d":28.75,"v":0.14},{"s":"2018122100","d":29,"v":0.11},{"s":"2018122100","d":29.25,"v":0.1},{"s":"2018122100","d":29.5,"v":0.12},{"s":"2018122100","d":29.75,"v":0.18},{"s":"2018122100","d":30,"v":0.25},{"s":"2018122100","d":30.25,"v":0.38},{"s":"2018122100","d":30.5,"v":0.52},{"s":"2018122100","d":30.75,"v":0.73},{"s":"2018122100","d":31,"v":0.94},
{"s":"2018122112","d":21.5,"v":-0.52},{"s":"2018122112","d":21.75,"v":-0.52},{"s":"2018122112","d":22,"v":-0.55},{"s":"2018122112","d":22.25,"v":-0.6},{"s":"2018122112","d":22.5,"v":-0.62},{"s":"2018122112","d":22.75,"v":-0.6},{"s":"2018122112","d":23,"v":-0.55},{"s":"2018122112","d":23.25,"v":-0.48},{"s":"2018122112","d":23.5,"v":-0.4},{"s":"2018122112","d":23.75,"v":-0.32},{"s":"2018122112","d":24,"v":-0.25},{"s":"2018122112","d":24.25,"v":-0.18},{"s":"2018122112","d":24.5,"v":-0.1},{"s":"2018122112","d":24.75,"v":-0.02},{"s":"2018122112","d":25,"v":0.06},{"s":"2018122112","d":25.25,"v":0.14},{"s":"2018122112","d":25.5,"v":0.2},{"s":"2018122112","d":25.75,"v":0.26},{"s":"2018122112","d":26,"v":0.3},{"s":"2018122112","d":26.25,"v":0.32},{"s":"2018122112","d":26.5,"v":0.33},{"s":"2018122112","d":26.75,"v":0.32},{"s":"2018122112","d":27,"v":0.3},{"s":"2018122112","d":27.25,"v":0.27},{"s":"2018122112","d":27.5,"v":0.22},{"s":"2018122112","d":27.75,"v":0.15},{"s":"2018122112","d":28,"v":0.05},{"s":"2018122112","d":28.25,"v":-0.08},{"s":"2018122112","d":28.5,"v":-0.2},{"s":"2018122112","d":28.75,"v":-0.3},{"s":"2018122112","d":29,"v":-0.38},{"s":"2018122112","d":29.25,"v":-0.42},{"s":"2018122112","d":29.5,"v":-0.42},{"s":"2018122112","d":29.75,"v":-0.4},{"s":"2018122112","d":30,"v":-0.4},{"s":"2018122112","d":30.25,"v":-0.42},{"s":"2018122112","d":30.5,"v":-0.45},{"s":"2018122112","d":30.75,"v":-0.5},{"s":"2018122112","d":31,"v":-0.58},{"s":"2018122112","d":31.25,"v":-0.66},{"s":"2018122112","d":31.5,"v":-0.77}
],
"obs":[
{"s":"2018122200","d":22,"v":-0.6},{"s":"2018122200","d":22.25,"v":-0.7},{"s":"2018122200","d":22.5,"v":-0.77},{"s":"2018122200","d":22.75,"v":-0.8},{"s":"2018122200","d":23,"v":-0.78},{"s":"2018122200","d":23.25,"v":-0.68},{"s":"2018122200","d":23.5,"v":-0.55},{"s":"2018122200","d":23.75,"v":-0.43},{"s":"2018122200","d":24,"v":-0.35},{"s":"2018122200","d":24.25,"v":-0.28},{"s":"2018122200","d":24.5,"v":-0.23},{"s":"2018122200","d":24.75,"v":-0.2},{"s":"2018122200","d":25,"v":-0.17},{"s":"2018122200","d":25.25,"v":-0.12},{"s":"2018122200","d":25.5,"v":-0.08},{"s":"2018122200","d":25.75,"v":-0.02},{"s":"2018122200","d":26,"v":0.03},{"s":"2018122200","d":26.25,"v":0.06},{"s":"2018122200","d":26.5,"v":0.08},{"s":"2018122200","d":26.75,"v":0.12},{"s":"2018122200","d":27,"v":0.16},{"s":"2018122200","d":27.25,"v":0.24},{"s":"2018122200","d":27.5,"v":0.28},{"s":"2018122200","d":27.75,"v":0.28},{"s":"2018122200","d":28,"v":0.24},{"s":"2018122200","d":28.25,"v":0.14},{"s":"2018122200","d":28.5,"v":-0.07},{"s":"2018122200","d":28.75,"v":-0.28},{"s":"2018122200","d":29,"v":-0.45},{"s":"2018122200","d":29.25,"v":-0.52},{"s":"2018122200","d":29.5,"v":-0.59},{"s":"2018122200","d":29.75,"v":-0.63},{"s":"2018122200","d":30,"v":-0.66},{"s":"2018122200","d":30.25,"v":-0.7},{"s":"2018122200","d":30.5,"v":-0.77},{"s":"2018122200","d":30.75,"v":-0.87},{"s":"2018122200","d":31,"v":-0.98},{"s":"2018122200","d":31.25,"v":-1.15},{"s":"2018122200","d":31.5,"v":-1.43},{"s":"2018122200","d":31.75,"v":-1.68},{"s":"2018122200","d":32,"v":-1.92}
]
},
"layer":[
{"data":{"name":"gray"},"mark":{"type":"line","color":"#8a8f95","strokeWidth":0.7,"clip":true},"encoding":{
"x":{"field":"d","type":"quantitative","scale":{"domain":[12.28,37.25],"nice":false,"zero":false},
"axis":{"title":null,"values":[13,15,17,19,21,23,25,27,29,32,34,36],"tickCount":30,"labelExpr":"datum.value == 13 ? ['13DEC','2018'] : datum.value == 32 ? ['1JAN','2019'] : datum.value > 31 ? (datum.value - 31) + 'JAN' : datum.value + 'DEC'","grid":true,"gridDash":[1,3],"gridColor":"#a8a8a8","gridWidth":1,"ticks":false,"domain":false,"labelFont":"Liberation Sans","labelFontSize":13,"labelColor":"#111","labelPadding":5,"labelLineHeight":14,"labelOverlap":false,"labelFlush":false}},
"y":{"field":"v","type":"quantitative","scale":{"domain":[-5,5],"nice":false,"zero":false},
"axis":{"title":null,"values":[-5,-4,-3,-2,-1,0,1,2,3,4,5],"tickCount":30,"format":"d","grid":true,"gridDash":[1,3],"gridColor":"#a8a8a8","gridWidth":1,"tickSize":5,"tickColor":"#000","tickWidth":1,"domain":false,"labelFont":"Liberation Sans","labelFontSize":14,"labelColor":"#111","labelPadding":2,"labelOverlap":false,"labelFlush":false}},
"detail":{"field":"s"}}},
{"data":{"name":"gray"},"mark":{"type":"point","shape":"circle","filled":false,"color":"#737a82","size":36,"strokeWidth":0.9,"opacity":1,"clip":true},"encoding":{"x":{"field":"d","type":"quantitative"},"y":{"field":"v","type":"quantitative"},"detail":{"field":"s"}}},
{"data":{"name":"fc"},"mark":{"type":"line","strokeWidth":0.9,"clip":true},"encoding":{"x":{"field":"d","type":"quantitative"},"y":{"field":"v","type":"quantitative"},"color":{"field":"s","type":"nominal","scale":{"domain":["2018121812","2018121900","2018121912","2018122000","2018122012","2018122100","2018122112"],"range":["#f07846","#e0322d","#b41428","#9ee69e","#3caa3c","#6496e6","#7070d8"]},"legend":null}}},
{"data":{"name":"fc"},"mark":{"type":"point","shape":"circle","filled":false,"size":30,"strokeWidth":1,"opacity":1,"clip":true},"encoding":{"x":{"field":"d","type":"quantitative"},"y":{"field":"v","type":"quantitative"},"color":{"field":"s","type":"nominal","legend":null}}},
{"data":{"name":"obs"},"mark":{"type":"line","color":"#000","strokeWidth":1,"clip":true},"encoding":{"x":{"field":"d","type":"quantitative"},"y":{"field":"v","type":"quantitative"}}},
{"data":{"name":"obs"},"mark":{"type":"point","shape":"circle","filled":true,"fill":"#fff","stroke":"#000","size":95,"strokeWidth":1.2,"opacity":1,"fillOpacity":1,"clip":true},"encoding":{"x":{"field":"d","type":"quantitative"},"y":{"field":"v","type":"quantitative"}}},
{"mark":{"type":"rule","color":"#000","strokeWidth":2},"encoding":{"x":{"datum":12.28},"x2":{"datum":37.25},"y":{"datum":0}}},
{"mark":{"type":"rect","fill":"#5d7290","cornerRadius":3},"encoding":{"x":{"datum":12.33},"x2":{"datum":12.98},"y":{"datum":5.15},"y2":{"datum":6.25}}},
{"mark":{"type":"rect","fill":"#d6e2ee"},"encoding":{"x":{"datum":12.42},"x2":{"datum":12.89},"y":{"datum":5.35},"y2":{"datum":6.05}}},
{"mark":{"type":"text","text":"Just In","align":"left","baseline":"alphabetic","font":"Liberation Sans","fontSize":12.5,"fontWeight":"bold","color":"#f27a1f"},"encoding":{"x":{"datum":13.04},"y":{"datum":5.9}}},
{"mark":{"type":"text","text":"WEATHER","align":"left","baseline":"alphabetic","font":"Liberation Sans","fontSize":12.8,"fontWeight":"bold","color":"#1f3f95"},"encoding":{"x":{"datum":13.0},"y":{"datum":5.413}}},
{"mark":{"type":"text","text":"North Atlantic Oscillation Forecast","align":"left","baseline":"alphabetic","font":"Liberation Sans","fontSize":16,"color":"#000"},"encoding":{"x":{"datum":15.84},"y":{"datum":5.962}}},
{"mark":{"type":"text","text":"ECMWF Model","align":"left","baseline":"alphabetic","font":"Liberation Sans","fontSize":16,"color":"#000"},"encoding":{"x":{"datum":15.84},"y":{"datum":5.402}}},
{"mark":{"type":"text","text":"Analyzed NAO Blue Line","align":"left","baseline":"alphabetic","font":"DejaVu Sans Mono","fontSize":12.2,"color":"#5a5ae0"},"encoding":{"x":{"datum":13.99},"y":{"datum":4.388}}},
{"mark":{"type":"text","text":"Last 8 ECMWF Forecasts","align":"left","baseline":"alphabetic","font":"DejaVu Sans Mono","fontSize":12.2,"color":"#111"},"encoding":{"x":{"datum":13.95},"y":{"datum":3.95}}},
{"mark":{"type":"text","text":"Updated for 2018122200","align":"left","baseline":"alphabetic","font":"DejaVu Sans Mono","fontSize":12.2,"color":"#111"},"encoding":{"x":{"datum":13.95},"y":{"datum":3.51}}},
{"mark":{"type":"text","text":"10−day Forecasts","align":"left","baseline":"alphabetic","font":"DejaVu Sans Mono","fontSize":12.3,"color":"#111"},"encoding":{"x":{"datum":29.1},"y":{"datum":4.39}}},
{"mark":{"type":"text","text":"2x Daily","align":"left","baseline":"alphabetic","font":"DejaVu Sans Mono","fontSize":12.3,"color":"#111"},"encoding":{"x":{"datum":29.1},"y":{"datum":3.93}}},
{"mark":{"type":"text","text":"2018121812","align":"left","baseline":"alphabetic","font":"DejaVu Sans","fontSize":9,"color":"#f07846"},"encoding":{"x":{"datum":34.41},"y":{"datum":4.65}}},
{"mark":{"type":"text","text":"2018121900","align":"left","baseline":"alphabetic","font":"DejaVu Sans","fontSize":9,"color":"#e0322d"},"encoding":{"x":{"datum":34.41},"y":{"datum":4.329}}},
{"mark":{"type":"text","text":"2018121912","align":"left","baseline":"alphabetic","font":"DejaVu Sans","fontSize":9,"color":"#b41428"},"encoding":{"x":{"datum":34.41},"y":{"datum":4.007}}},
{"mark":{"type":"text","text":"2018122000","align":"left","baseline":"alphabetic","font":"DejaVu Sans","fontSize":9,"color":"#9ee69e"},"encoding":{"x":{"datum":34.41},"y":{"datum":3.685}}},
{"mark":{"type":"text","text":"2018122012","align":"left","baseline":"alphabetic","font":"DejaVu Sans","fontSize":9,"color":"#3caa3c"},"encoding":{"x":{"datum":34.41},"y":{"datum":3.364}}},
{"mark":{"type":"text","text":"2018122100","align":"left","baseline":"alphabetic","font":"DejaVu Sans","fontSize":9,"color":"#6496e6"},"encoding":{"x":{"datum":34.41},"y":{"datum":3.042}}},
{"mark":{"type":"text","text":"2018122112","align":"left","baseline":"alphabetic","font":"DejaVu Sans","fontSize":9,"color":"#7070d8"},"encoding":{"x":{"datum":34.41},"y":{"datum":2.72}}},
{"mark":{"type":"text","text":"2018122200","align":"left","baseline":"alphabetic","font":"DejaVu Sans","fontSize":9,"color":"#000"},"encoding":{"x":{"datum":34.41},"y":{"datum":2.399}}},
{"mark":{"type":"text","text":"Trend ‘Negative Index’","align":"center","baseline":"alphabetic","font":"Liberation Sans","fontSize":17,"fontWeight":"bold","fontStyle":"italic","color":"#1a1ad6"},"encoding":{"x":{"datum":31.68},"y":{"datum":-2.8}}},
{"mark":{"type":"text","text":"Colder and Stormy","align":"center","baseline":"alphabetic","font":"Liberation Sans","fontSize":17,"fontWeight":"bold","fontStyle":"italic","color":"#1a1ad6"},"encoding":{"x":{"datum":31.68},"y":{"datum":-3.74}}},
{"mark":{"type":"text","text":"Eastern US","align":"center","baseline":"alphabetic","font":"Liberation Sans","fontSize":17,"fontWeight":"bold","fontStyle":"italic","color":"#1a1ad6"},"encoding":{"x":{"datum":31.68},"y":{"datum":-4.44}}}
]
}
